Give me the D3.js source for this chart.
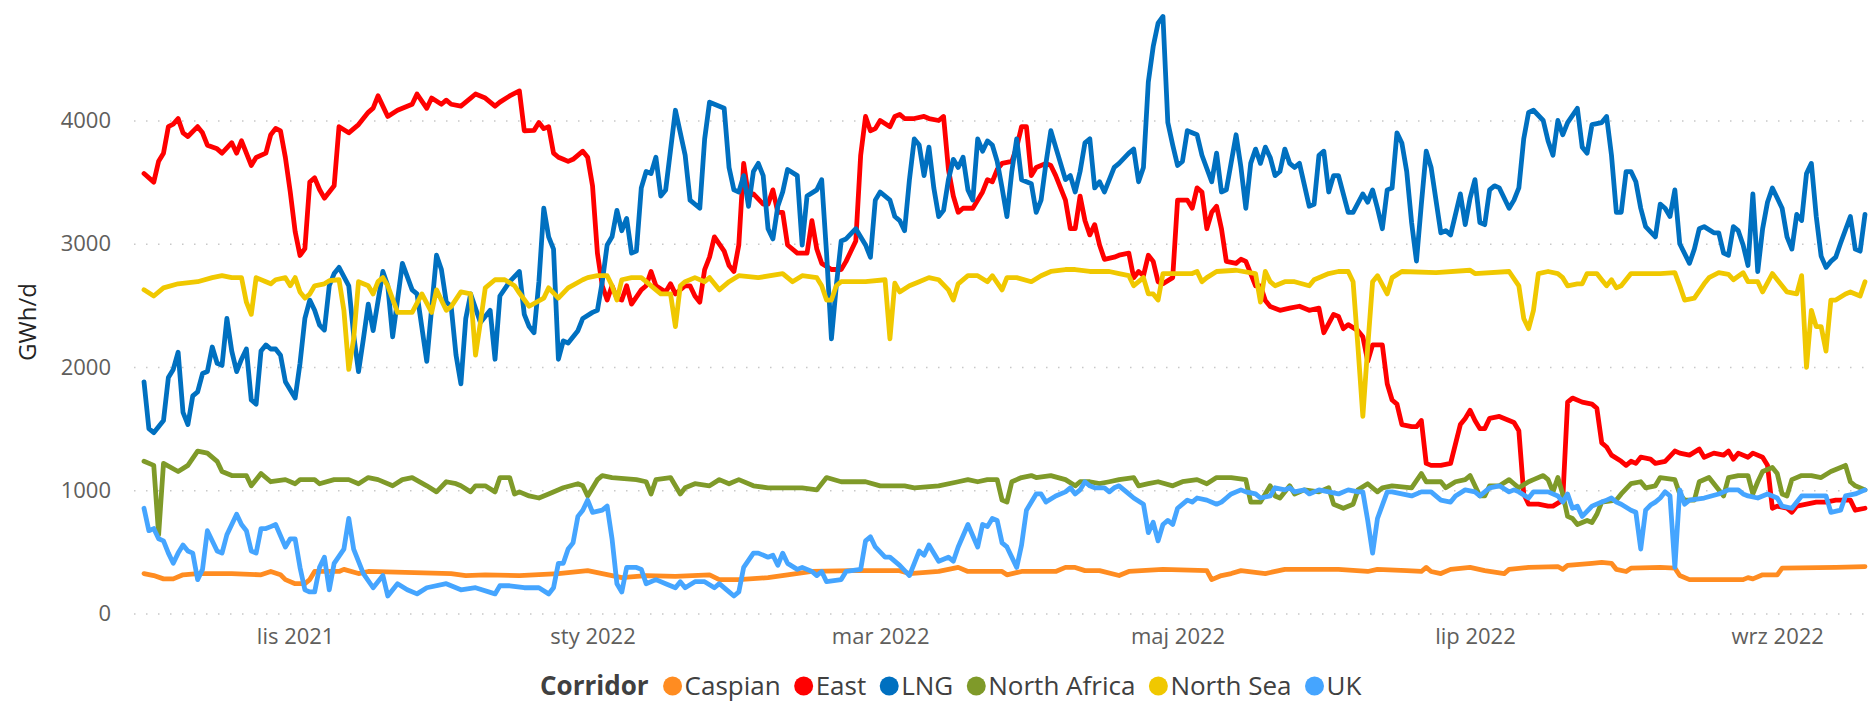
<!DOCTYPE html>
<html><head><meta charset="utf-8">
<script src="https://cdn.jsdelivr.net/npm/d3@7"></script>
<style>
html,body{margin:0;padding:0;background:#fff;}
svg{display:block;font-family:"Segoe UI","Open Sans",sans-serif;}
</style></head><body>
<svg id="chart" width="1872" height="704"></svg>
<script>
// Day index 0 = 2021-10-01 (daily series, [dayIndex, GWh/d])
const START_DATE = "2021-10-01";
const seriesNames = ["Caspian", "East", "LNG", "North Africa", "North Sea", "UK"];
const seriesColors = ["#FF8C21", "#FF0000", "#0070C0", "#7F9A29", "#F0C800", "#45A5FF"];
const yTicks = [0, 1000, 2000, 3000, 4000];
const xTickDates = ["2021-11-01", "2022-01-01", "2022-03-01", "2022-05-01", "2022-07-01", "2022-09-01"];
const xTickLabels = ["lis 2021", "sty 2022", "mar 2022", "maj 2022", "lip 2022", "wrz 2022"];
const legendTitle = "Corridor";
const yTitle = "GWh/d";

const caspian = [[0,324],[2,308],[4,281],[6,281],[8,314],[11,324],[18,324],[24,314],[26,341],[28,314],[29,275],[31,242],[33,242],[34,275],[35,341],[40,341],[41,358],[44,324],[46,341],[63,324],[66,308],[70,314],[77,308],[85,324],[91,348],[94,324],[98,291],[103,308],[109,301],[116,314],[118,275],[122,275],[128,291],[132,314],[137,341],[145,348],[155,348],[157,324],[163,341],[167,374],[169,341],[176,341],[177,314],[180,341],[187,341],[189,374],[191,374],[193,348],[196,348],[200,308],[202,341],[209,358],[218,348],[219,275],[221,308],[223,324],[225,348],[230,324],[234,358],[245,358],[251,341],[253,358],[259,348],[262,341],[263,374],[264,341],[266,324],[268,358],[272,374],[275,348],[279,324],[280,358],[284,374],[290,381],[291,358],[292,391],[297,407],[299,414],[301,407],[302,358],[304,341],[305,368],[311,374],[314,368],[315,308],[317,275],[328,275],[329,291],[330,281],[332,314],[335,314],[336,368],[347,374],[353,381]];

const east = [[0,3570],[2,3500],[3,3670],[4,3735],[5,3950],[6,3970],[7,4015],[8,3900],[9,3870],[11,3950],[12,3900],[13,3800],[15,3770],[16,3735],[18,3820],[19,3735],[20,3835],[22,3635],[23,3700],[25,3735],[26,3885],[27,3935],[28,3915],[29,3700],[30,3420],[31,3100],[32,2905],[33,2960],[34,3500],[35,3535],[36,3440],[37,3370],[39,3470],[40,3950],[42,3900],[44,3967],[46,4066],[47,4100],[48,4200],[50,4033],[52,4083],[55,4132],[56,4215],[58,4099],[59,4182],[61,4132],[62,4165],[63,4132],[65,4116],[67,4182],[68,4215],[70,4182],[72,4116],[73,4149],[75,4199],[77,4240],[78,3917],[80,3920],[81,3983],[82,3934],[83,3950],[84,3735],[85,3702],[86,3685],[87,3668],[88,3685],[90,3751],[91,3702],[92,3470],[93,2924],[94,2659],[95,2543],[96,2659],[97,2559],[98,2543],[99,2659],[100,2510],[102,2626],[103,2659],[104,2775],[105,2659],[107,2609],[108,2675],[109,2593],[111,2659],[112,2659],[113,2576],[114,2526],[115,2791],[116,2891],[117,3056],[119,2940],[120,2824],[121,2775],[122,2990],[123,3652],[124,3387],[125,3404],[127,3321],[128,3321],[129,3437],[130,3255],[131,3255],[132,2990],[134,2924],[136,2924],[137,3188],[138,2957],[139,2841],[141,2791],[143,2791],[144,2857],[146,3023],[147,3718],[148,4033],[149,3917],[150,3934],[151,4000],[153,3950],[154,4033],[155,4049],[156,4016],[158,4016],[160,4033],[161,4016],[163,4000],[164,4033],[165,3602],[166,3387],[167,3255],[168,3288],[170,3288],[172,3420],[173,3520],[174,3503],[175,3602],[176,3652],[178,3668],[179,3784],[180,3950],[181,3950],[182,3553],[183,3619],[185,3652],[186,3635],[187,3553],[189,3354],[190,3122],[191,3122],[192,3387],[193,3188],[194,3072],[195,3155],[196,2990],[197,2874],[199,2891],[200,2907],[202,2924],[203,2725],[204,2775],[205,2741],[206,2907],[207,2857],[208,2692],[209,2675],[211,2725],[212,3354],[214,3354],[215,3288],[216,3453],[217,3420],[218,3122],[219,3255],[220,3304],[221,3122],[222,2857],[224,2841],[225,2874],[226,2857],[228,2659],[229,2659],[230,2540],[231,2490],[233,2460],[235,2477],[237,2493],[239,2460],[241,2477],[242,2278],[244,2427],[245,2410],[246,2311],[247,2344],[249,2295],[250,2245],[251,2046],[252,2179],[254,2179],[255,1864],[256,1732],[257,1699],[258,1533],[260,1516],[261,1516],[262,1566],[263,1218],[264,1202],[266,1202],[268,1218],[270,1533],[271,1583],[272,1649],[273,1566],[274,1500],[275,1500],[276,1583],[278,1599],[280,1566],[281,1550],[282,1483],[283,970],[284,887],[286,887],[288,871],[289,871],[291,920],[292,1715],[293,1748],[295,1715],[297,1699],[298,1665],[299,1384],[300,1351],[301,1285],[303,1235],[304,1202],[305,1235],[306,1218],[307,1268],[309,1252],[310,1218],[312,1235],[314,1318],[315,1301],[317,1285],[319,1334],[320,1268],[322,1301],[324,1285],[325,1318],[326,1252],[327,1301],[329,1268],[330,1301],[332,1268],[333,1202],[334,854],[335,871],[337,854],[338,821],[339,871],[341,887],[343,904],[345,904],[347,920],[350,920],[351,838],[353,854]];

const lng = [[0,1880],[1,1500],[2,1467],[4,1566],[5,1914],[6,1980],[7,2120],[8,1632],[9,1533],[10,1765],[11,1798],[12,1947],[13,1963],[14,2162],[15,2030],[16,2013],[17,2394],[18,2129],[19,1963],[20,2063],[21,2146],[22,1732],[23,1699],[24,2129],[25,2179],[26,2146],[27,2146],[28,2096],[29,1881],[31,1748],[32,2030],[33,2394],[34,2543],[35,2460],[36,2340],[37,2300],[38,2660],[39,2758],[40,2808],[42,2659],[43,2261],[44,1963],[45,2228],[46,2510],[47,2295],[49,2775],[50,2659],[51,2245],[53,2841],[55,2626],[56,2593],[58,2046],[60,2907],[61,2791],[62,2526],[63,2493],[64,2096],[65,1864],[66,2394],[67,2593],[69,2361],[71,2460],[72,2063],[73,2576],[75,2692],[77,2775],[78,2427],[79,2328],[80,2278],[81,2692],[82,3288],[83,3056],[84,2957],[85,2063],[86,2212],[87,2195],[89,2295],[90,2394],[92,2443],[93,2460],[94,2692],[95,2990],[96,3056],[97,3271],[98,3106],[99,3205],[100,2924],[101,2940],[102,3453],[103,3586],[104,3569],[105,3702],[106,3387],[107,3437],[109,4083],[111,3718],[112,3354],[114,3288],[115,3851],[116,4149],[117,4132],[119,4099],[120,3619],[121,3437],[122,3420],[123,3553],[124,3304],[125,3586],[126,3652],[127,3553],[128,3122],[129,3039],[130,3304],[131,3420],[132,3602],[134,3553],[135,2990],[136,3387],[138,3437],[139,3520],[140,2924],[141,2228],[142,2659],[143,3023],[144,3039],[146,3122],[148,2990],[149,2891],[150,3354],[151,3420],[153,3354],[154,3221],[155,3188],[156,3106],[157,3520],[158,3851],[159,3801],[160,3553],[161,3784],[162,3453],[163,3221],[164,3271],[165,3520],[166,3685],[167,3619],[168,3702],[169,3437],[170,3354],[171,3851],[172,3751],[173,3834],[174,3801],[175,3668],[176,3453],[177,3221],[178,3586],[179,3851],[180,3520],[182,3487],[183,3255],[184,3354],[185,3652],[186,3917],[187,3784],[189,3520],[190,3553],[191,3420],[192,3586],[193,3818],[194,3851],[195,3453],[196,3503],[197,3420],[199,3619],[200,3652],[202,3735],[203,3768],[204,3503],[205,3619],[206,4314],[207,4600],[208,4790],[209,4844],[210,3983],[211,3801],[212,3635],[213,3668],[214,3917],[216,3884],[217,3718],[219,3503],[220,3735],[221,3420],[222,3437],[224,3884],[225,3619],[226,3288],[227,3652],[228,3768],[229,3652],[230,3784],[231,3700],[232,3553],[233,3586],[234,3768],[235,3652],[236,3619],[237,3652],[239,3304],[240,3321],[241,3718],[242,3751],[243,3420],[244,3553],[245,3553],[247,3255],[248,3255],[250,3404],[251,3337],[252,3437],[253,3288],[254,3122],[255,3437],[256,3453],[257,3900],[258,3818],[259,3586],[260,3172],[261,2860],[262,3321],[263,3751],[264,3619],[266,3089],[267,3106],[268,3072],[270,3404],[271,3155],[272,3371],[273,3520],[274,3172],[275,3155],[276,3437],[277,3470],[278,3453],[280,3288],[281,3354],[282,3453],[283,3851],[284,4066],[285,4083],[287,4000],[288,3834],[289,3718],[290,4000],[291,3884],[292,3983],[294,4099],[295,3784],[296,3735],[297,3967],[299,3983],[300,4033],[301,3718],[302,3255],[303,3255],[304,3586],[305,3586],[306,3503],[307,3288],[308,3139],[310,3056],[311,3321],[312,3288],[313,3221],[314,3437],[315,3000],[317,2841],[318,2957],[319,3122],[320,3139],[322,3089],[323,3089],[324,2924],[325,2907],[326,3139],[327,3106],[328,2990],[329,2824],[330,3404],[331,2775],[332,3122],[333,3337],[334,3453],[335,3371],[336,3288],[337,3056],[338,2957],[339,3238],[340,3188],[341,3569],[342,3652],[343,3221],[344,2900],[345,2808],[346,2857],[347,2891],[348,3006],[350,3221],[351,2957],[352,2940],[353,3238]];

const northAfrica = [[0,1235],[2,1202],[3,639],[4,1218],[7,1152],[9,1202],[11,1318],[13,1301],[15,1235],[16,1152],[18,1119],[21,1119],[22,1036],[24,1136],[26,1069],[29,1086],[31,1053],[32,1086],[35,1086],[36,1053],[39,1086],[42,1086],[44,1053],[46,1103],[48,1086],[51,1036],[53,1086],[55,1103],[58,1036],[60,987],[62,1069],[64,1053],[65,1036],[67,987],[68,1036],[70,1036],[72,987],[73,1103],[75,1103],[76,970],[77,987],[79,954],[81,937],[83,970],[86,1020],[89,1053],[90,1036],[91,954],[93,1086],[94,1119],[96,1103],[101,1086],[103,1069],[104,970],[105,1086],[108,1103],[110,970],[111,1020],[113,1053],[116,1036],[118,1086],[120,1053],[122,1086],[125,1036],[128,1020],[135,1020],[138,1003],[140,1103],[143,1069],[148,1069],[151,1036],[156,1036],[158,1020],[163,1036],[167,1069],[169,1086],[171,1069],[173,1086],[175,1086],[176,920],[177,904],[178,1069],[180,1103],[182,1119],[183,1103],[186,1119],[189,1086],[191,1036],[192,1069],[194,1069],[196,1053],[198,1069],[200,1086],[203,1103],[204,1036],[206,1053],[208,1069],[211,1036],[213,1069],[216,1086],[218,1053],[220,1103],[223,1103],[226,1086],[227,904],[229,904],[231,1036],[232,954],[233,937],[235,1036],[236,970],[238,1003],[241,987],[243,1020],[244,887],[246,854],[248,887],[249,1003],[251,1053],[253,987],[254,1020],[256,1036],[260,1020],[262,1136],[263,1069],[266,1069],[267,1020],[269,1069],[271,1086],[272,1119],[274,954],[275,954],[276,1036],[278,1036],[280,1086],[281,1053],[282,1020],[284,1069],[285,1086],[287,1119],[288,1086],[289,987],[290,1103],[291,970],[292,788],[293,771],[294,722],[296,755],[297,738],[298,805],[299,904],[302,920],[303,970],[305,1053],[307,1069],[308,1020],[310,1036],[311,1103],[314,1086],[315,970],[316,920],[318,920],[319,1069],[321,1103],[324,954],[325,1103],[327,1119],[329,1119],[330,970],[331,1069],[332,1152],[334,1185],[335,1136],[336,970],[337,954],[338,1086],[340,1119],[342,1119],[344,1103],[346,1152],[348,1185],[349,1202],[350,1069],[351,1036],[353,1003]];

const northSea = [[0,2626],[2,2576],[4,2642],[7,2675],[11,2692],[14,2725],[16,2741],[18,2725],[20,2725],[21,2526],[22,2427],[23,2725],[25,2692],[26,2675],[27,2708],[29,2725],[30,2659],[31,2725],[32,2609],[33,2559],[34,2592],[35,2659],[37,2675],[38,2700],[40,2708],[41,2460],[42,1980],[43,2228],[44,2692],[46,2659],[47,2593],[48,2692],[49,2725],[50,2659],[52,2443],[55,2443],[57,2593],[59,2443],[60,2626],[62,2460],[63,2490],[65,2609],[67,2593],[68,2096],[69,2361],[70,2642],[72,2708],[74,2708],[76,2659],[77,2600],[79,2493],[82,2559],[83,2642],[85,2559],[87,2642],[90,2708],[91,2725],[93,2741],[95,2741],[96,2659],[97,2543],[98,2708],[100,2725],[102,2725],[103,2692],[105,2626],[106,2593],[108,2593],[109,2328],[110,2659],[111,2692],[113,2725],[115,2692],[116,2725],[118,2626],[120,2692],[122,2741],[126,2725],[131,2758],[133,2692],[135,2741],[138,2725],[139,2659],[140,2543],[141,2543],[142,2659],[143,2692],[148,2692],[152,2708],[153,2228],[154,2680],[155,2609],[157,2659],[159,2692],[161,2725],[163,2708],[165,2626],[166,2543],[167,2675],[169,2741],[171,2741],[173,2692],[174,2741],[176,2626],[177,2725],[179,2725],[182,2692],[184,2741],[186,2775],[189,2791],[191,2791],[194,2775],[198,2775],[200,2758],[202,2741],[203,2659],[204,2692],[205,2725],[206,2593],[207,2593],[208,2543],[209,2758],[215,2758],[216,2775],[217,2692],[218,2725],[220,2775],[224,2785],[228,2758],[229,2526],[230,2775],[231,2692],[232,2659],[234,2692],[236,2692],[239,2659],[240,2708],[243,2758],[245,2775],[247,2775],[248,2692],[249,2162],[250,1599],[251,2162],[252,2692],[253,2741],[255,2593],[256,2725],[258,2775],[265,2765],[272,2785],[273,2758],[280,2775],[282,2659],[283,2394],[284,2311],[285,2460],[286,2758],[288,2775],[290,2758],[291,2725],[292,2659],[294,2675],[295,2675],[296,2758],[298,2758],[299,2708],[300,2659],[301,2708],[302,2642],[303,2659],[305,2758],[311,2758],[314,2765],[315,2659],[316,2543],[318,2559],[320,2675],[321,2725],[323,2765],[325,2751],[326,2708],[328,2765],[329,2692],[331,2692],[332,2609],[334,2758],[335,2708],[337,2609],[339,2593],[340,2741],[341,1997],[342,2460],[343,2328],[344,2328],[345,2129],[346,2543],[347,2543],[349,2593],[350,2609],[352,2576],[353,2692]];

const uk = [[0,854],[1,672],[2,689],[3,606],[4,589],[5,490],[6,407],[7,490],[8,556],[9,507],[10,490],[11,275],[12,358],[13,672],[15,507],[16,490],[17,639],[19,805],[20,722],[21,672],[22,507],[23,490],[24,689],[25,689],[26,705],[27,722],[29,540],[30,606],[31,606],[32,374],[33,192],[34,175],[35,175],[36,374],[37,457],[38,192],[39,407],[41,523],[42,771],[43,523],[45,324],[47,209],[49,308],[50,142],[52,242],[54,192],[56,159],[58,209],[62,242],[65,192],[68,209],[72,159],[73,225],[75,225],[78,209],[81,209],[83,159],[84,209],[85,407],[86,407],[87,523],[88,573],[89,788],[90,838],[91,920],[92,821],[94,838],[95,871],[96,606],[97,242],[98,175],[99,374],[101,374],[102,358],[103,242],[105,275],[107,242],[109,209],[110,258],[111,209],[113,258],[115,258],[117,209],[118,242],[120,175],[121,142],[122,175],[123,374],[125,490],[126,490],[128,457],[129,473],[130,391],[131,490],[132,407],[134,358],[135,374],[137,341],[138,308],[139,341],[140,258],[143,275],[144,341],[147,358],[148,589],[149,622],[150,540],[152,457],[153,457],[155,391],[157,308],[158,407],[159,507],[160,473],[161,556],[163,424],[165,457],[166,424],[167,540],[169,722],[171,540],[172,722],[173,705],[174,771],[175,755],[176,573],[177,540],[179,374],[180,556],[181,838],[183,970],[184,970],[185,904],[187,954],[189,987],[190,1020],[191,970],[192,1003],[193,1069],[194,1036],[195,1020],[197,1020],[198,987],[199,1020],[200,1036],[202,970],[203,937],[205,887],[206,656],[207,740],[208,589],[209,722],[210,755],[211,722],[212,854],[214,920],[215,904],[216,937],[218,920],[220,887],[221,904],[222,937],[223,970],[225,1003],[226,987],[228,970],[229,937],[231,954],[232,1020],[234,1003],[235,1020],[236,987],[238,1003],[239,970],[241,1003],[243,987],[245,970],[247,1003],[249,987],[250,987],[251,755],[252,490],[253,771],[255,987],[256,987],[258,970],[260,954],[262,987],[264,987],[266,920],[268,904],[269,954],[271,1003],[273,987],[274,954],[276,1020],[278,1036],[280,987],[281,1003],[282,987],[284,937],[285,987],[288,987],[290,954],[291,904],[292,970],[293,854],[294,871],[295,788],[297,871],[299,904],[300,920],[301,937],[302,904],[303,887],[305,838],[306,821],[307,523],[308,838],[309,880],[310,904],[311,937],[312,987],[313,954],[314,374],[315,1003],[316,887],[317,920],[320,937],[323,970],[325,1003],[327,1003],[328,970],[329,954],[331,937],[333,970],[335,937],[336,871],[338,854],[340,954],[345,954],[346,821],[348,838],[349,954],[351,970],[353,1003]];

const seriesData = [caspian, east, lng, northAfrica, northSea, uk];

// ---------- drawing ----------
const svg = d3.select("#chart");
const start = new Date(START_DATE + "T00:00:00Z");
const dayDate = i => d3.utcDay.offset(start, i);
const FONT = '"Segoe UI","Open Sans",sans-serif';

const x = d3.scaleUtc().domain([dayDate(0), dayDate(353)]).range([144, 1865]);
const y = d3.scaleLinear().domain([0, 4000]).range([613.5, 120.5]);

const gridLeft = 134, gridRight = 1872;

// Y axis with dotted gridlines
const yAxis = svg.append("g")
  .attr("transform", `translate(${gridLeft},0)`)
  .call(d3.axisLeft(y).tickValues(yTicks).tickSize(-(gridRight - gridLeft)).tickPadding(23).tickFormat(d3.format("d")));
yAxis.select(".domain").remove();
yAxis.selectAll(".tick line").attr("stroke", "#C8C8C8").attr("stroke-width", 1.5).attr("stroke-dasharray", "1.5,10.5");
yAxis.selectAll(".tick text").attr("fill", "#605E5C").style("font-size", "22px").style("font-family", FONT);

// X axis
const xAxis = svg.append("g")
  .attr("transform", `translate(0,${y(0)})`)
  .call(d3.axisBottom(x).tickValues(xTickDates.map(s => new Date(s + "T00:00:00Z"))).tickSize(0).tickFormat((d, i) => xTickLabels[i]));
xAxis.select(".domain").remove();
xAxis.selectAll(".tick text").attr("fill", "#605E5C").attr("y", 30).attr("dy", 0).style("font-size", "22px").style("font-family", FONT);

// Y title
svg.append("text")
  .attr("transform", `translate(36,322) rotate(-90)`)
  .attr("text-anchor", "middle")
  .attr("fill", "#252423")
  .style("font-size", "24px")
  .text(yTitle);

// Lines
const line = d3.line().x(d => x(dayDate(d[0]))).y(d => y(d[1]));
svg.append("g").selectAll("path")
  .data(seriesData)
  .join("path")
  .attr("d", line)
  .attr("fill", "none")
  .attr("stroke", (d, i) => seriesColors[i])
  .attr("stroke-width", 4.8)
  .attr("stroke-linejoin", "round")
  .attr("stroke-linecap", "round");

// Legend
const lg = svg.append("g").attr("transform", "translate(540,695)");
const lt = lg.append("text").attr("x", 0).attr("y", 0).attr("fill", "#404040")
  .style("font-size", "26px").style("font-weight", "bold").text(legendTitle);
let lx = lt.node().getComputedTextLength() + 15;
seriesNames.forEach((name, i) => {
  lg.append("circle").attr("cx", lx + 9).attr("cy", -9).attr("r", 9.5).attr("fill", seriesColors[i]);
  const t = lg.append("text").attr("x", lx + 21).attr("y", 0).attr("fill", "#404040")
    .style("font-size", "26px").text(name);
  lx += 21 + t.node().getComputedTextLength() + 14;
});
</script>
</body></html>
